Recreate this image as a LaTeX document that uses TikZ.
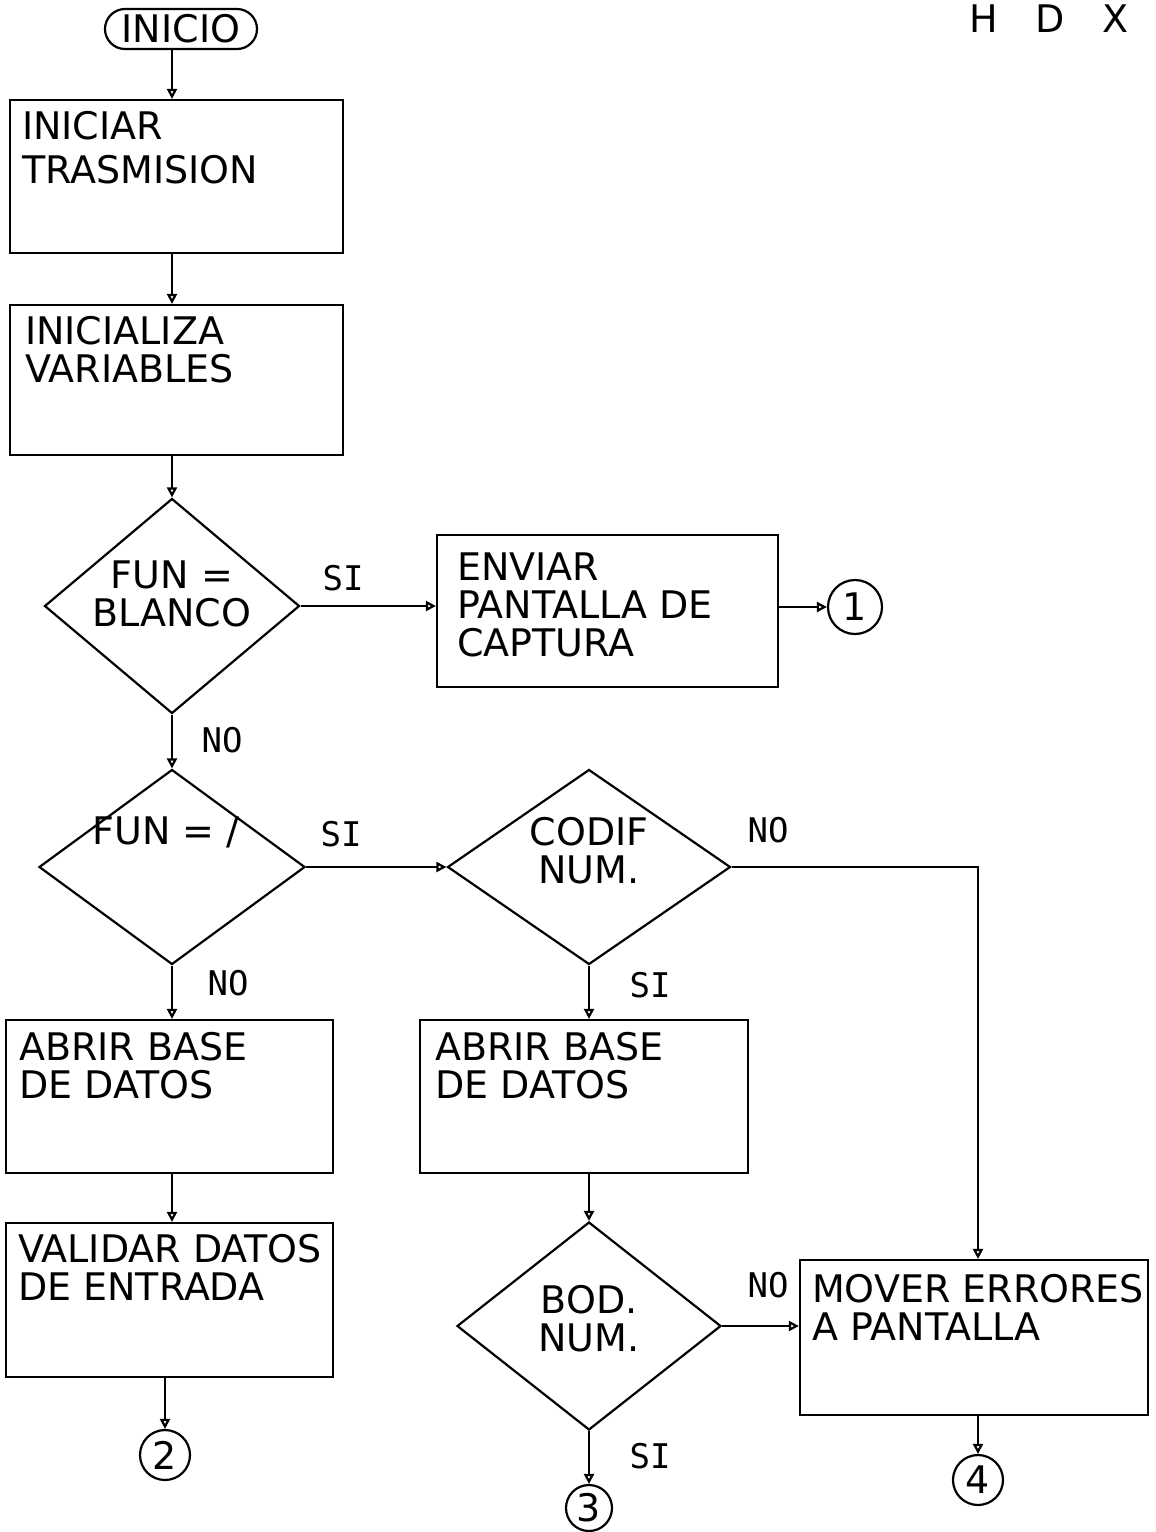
\documentclass[tikz,border=0pt]{standalone}
\usepackage{fontspec}
\setmainfont{DejaVu Sans}
\newfontfamily\pfont{DejaVu Sans}
\newfontfamily\lfont{DejaVu Sans Mono}
\usetikzlibrary{shapes.geometric,arrows.meta}
\begin{document}
\begin{tikzpicture}[x=0.5pt,y=-0.5pt,
  line width=1.1pt,
  every node/.style={font=\pfont\fontsize{19pt}{19pt}\selectfont},
  pbox/.style={draw,rectangle,inner sep=0pt},
  ptxt/.style={anchor=north west,inner sep=0pt,align=left},
  dtxt/.style={inner sep=0pt,align=center},
  dia/.style={draw,diamond,inner sep=0pt},
  conn/.style={draw,circle,inner sep=0pt},
  lbl/.style={inner sep=0pt,font=\lfont\fontsize{17pt}{17pt}\selectfont},
  arr/.style={-{Triangle[open,length=5pt,width=5pt]}}]
\useasboundingbox (0,0) rectangle (1156,1532);
\fill[white] (0,0) rectangle (1156,1532);

% title fragment at top right
\node[anchor=base west,inner sep=0pt,font=\pfont\fontsize{19pt}{19pt}\selectfont] (hdx) at (968,32) {H\kern19pt D\kern19pt X};

% start
\node[draw,rounded corners=10pt,minimum width=76pt,minimum height=20pt,inner sep=0pt] (inicio) at (181,29) {INICIO};

% boxes
\node[pbox,minimum width=166.5pt,minimum height=76.5pt] (b1) at (176.5,176.5) {};
\node[ptxt] (b1t) at (21,110) {INICIAR\\[3pt]TRASMISION};

\node[pbox,minimum width=166.5pt,minimum height=75pt] (b2) at (176.5,380) {};
\node[ptxt] (b2t) at (24,315) {INICIALIZA\\VARIABLES};

\node[pbox,minimum width=170.5pt,minimum height=76pt] (env) at (607.5,611) {};
\node[ptxt] (envt) at (456,552) {ENVIAR\\PANTALLA DE\\CAPTURA};

\node[pbox,minimum width=163.5pt,minimum height=76.5pt] (a1) at (169.5,1096.5) {};
\node[ptxt] (a1t) at (18,1031) {ABRIR BASE\\DE DATOS};

\node[pbox,minimum width=163.5pt,minimum height=77pt] (val) at (169.5,1300) {};
\node[ptxt] (valt) at (17,1233) {VALIDAR DATOS\\DE ENTRADA};

\node[pbox,minimum width=164pt,minimum height=76.5pt] (a2) at (584,1096.5) {};
\node[ptxt] (a2t) at (434,1031) {ABRIR BASE\\DE DATOS};

\node[pbox,minimum width=174pt,minimum height=77.5pt] (mov) at (974,1337.5) {};
\node[ptxt] (movt) at (811,1273) {MOVER ERRORES\\A PANTALLA};

% decisions
\node[dia,minimum width=127.5pt,minimum height=107.5pt] (d1) at (172,606) {};
\node[dtxt] (d1t) at (172,594) {FUN =\\BLANCO};

\node[dia,minimum width=133pt,minimum height=97.5pt] (d2) at (172,867) {};
\node[dtxt] (d2t) at (166,832) {FUN = /};

\node[dia,minimum width=141.5pt,minimum height=97.5pt] (d3) at (589,867) {};
\node[dtxt] (d3t) at (589,851) {CODIF\\NUM.};

\node[dia,minimum width=132pt,minimum height=104pt] (d4) at (589,1326) {};
\node[dtxt] (d4t) at (589,1319) {BOD.\\NUM.};

% connectors (off-page)
\node[conn,minimum size=27pt] (c1) at (855,607) {1};
\node[conn,minimum size=25pt] (c2) at (165,1455) {2};
\node[conn,minimum size=23pt] (c3) at (589,1508) {3};
\node[conn,minimum size=25pt] (c4) at (978,1480) {4};

\coordinate (k) at (978,867);

% flow lines
\draw[arr] (inicio.south -| d1.north) -- (b1.north -| d1.north);
\draw[arr] (b1.south -| d1.north) -- (b2.north -| d1.north);
\draw[arr] (b2.south -| d1.north) -- (d1.north);
\draw[arr] (d1.east) -- (d1.east -| env.west);
\draw[arr] (c1.west -| env.east) -- (c1.west);
\draw[arr] (d1.south) -- (d2.north);
\draw[arr] (d2.east) -- (d3.west);
\draw[arr] (d2.south) -- (d2.south |- a1.north);
\draw[arr] (a1.south -| d2.south) -- (val.north -| d2.south);
\draw[arr] (val.south -| c2.north) -- (c2.north);
\draw[arr] (d3.south) -- (d3.south |- a2.north);
\draw[arr] (a2.south -| d4.north) -- (d4.north);
\draw[arr] (d3.east) -- (k) -- (k |- mov.north);
\draw[arr] (d4.east) -- (d4.east -| mov.west);
\draw[arr] (d4.south) -- (c3.north);
\draw[arr] (mov.south -| c4.north) -- (c4.north);

% branch labels
\node[lbl] (l1) at (343,578) {SI};
\node[lbl] (l2) at (222,740) {NO};
\node[lbl] (l3) at (341,834) {SI};
\node[lbl] (l4) at (768,830) {NO};
\node[lbl] (l5) at (228,983) {NO};
\node[lbl] (l6) at (650,985) {SI};
\node[lbl] (l7) at (768,1285) {NO};
\node[lbl] (l8) at (650,1456) {SI};
\end{tikzpicture}
\end{document}
